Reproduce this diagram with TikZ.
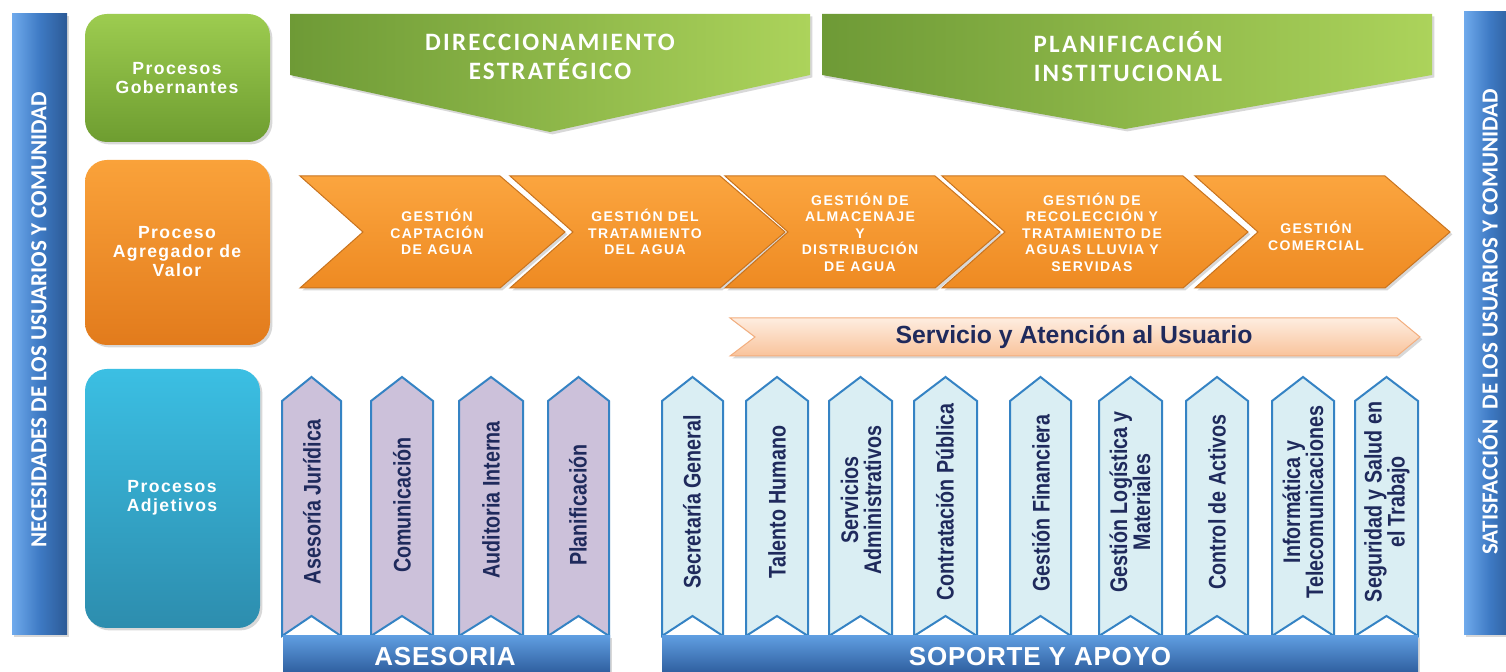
\documentclass[tikz,border=0pt]{standalone}
\usepackage{fontspec}
\setmainfont{Liberation Sans}
\newfontfamily\calib{Carlito}
\newfontfamily\bancalib[LetterSpace=9]{Carlito}
\newfontfamily\boxfont[LetterSpace=8]{Liberation Sans}
\newfontfamily\chevfont[LetterSpace=10]{Liberation Sans}
\newfontfamily\barfont[LetterSpace=3]{Liberation Sans}
\newfontfamily\narrowf[FakeStretch=0.82]{Liberation Sans}
\usetikzlibrary{shadows}
\definecolor{sbL}{HTML}{6FAAEC}
\definecolor{sbM}{HTML}{3E7AC4}
\definecolor{sbR}{HTML}{2C5A96}
\definecolor{gbT}{HTML}{9DCC50}
\definecolor{gbB}{HTML}{6E9D30}
\definecolor{obT}{HTML}{FAA23A}
\definecolor{obB}{HTML}{E27B1C}
\definecolor{tbT}{HTML}{3BBFE3}
\definecolor{tbB}{HTML}{2D8DAE}
\definecolor{gL}{HTML}{6E9A36}
\definecolor{gR}{HTML}{ACD35B}
\definecolor{oT}{HTML}{FBA53F}
\definecolor{oB}{HTML}{EE8A22}
\definecolor{oD}{HTML}{C9741F}
\definecolor{svT}{HTML}{FEEDE0}
\definecolor{svB}{HTML}{F9C39B}
\definecolor{svD}{HTML}{F3AE7E}
\definecolor{lav}{HTML}{CCC1DA}
\definecolor{lblue}{HTML}{DAEEF3}
\definecolor{arrblue}{HTML}{3583C4}
\definecolor{navy}{HTML}{1F2A5C}
\definecolor{bbT}{HTML}{5F9DE0}
\definecolor{bbB}{HTML}{2C5B9B}
\tikzset{
  myshadow/.style={drop shadow={opacity=0.3,shadow xshift=1.2pt,shadow yshift=-1.2pt}},
  sidebar/.style={left color=sbL, right color=sbR, middle color=sbM, myshadow},
  sidetxt/.style={rotate=90, text=white, inner sep=0, font=\calib\bfseries\fontsize{11.5}{12}\selectfont},
  boxtxt/.style={text=white, align=center, inner sep=0, font=\boxfont\bfseries\fontsize{8.8}{9.5}\selectfont},
  banner/.style={left color=gL, right color=gR, myshadow},
  bantxt/.style={text=white, align=center, inner sep=0, font=\bancalib\bfseries\fontsize{12.5}{14.5}\selectfont},
  chev/.style={top color=oT, bottom color=oB, draw=oD, line width=0.5pt, myshadow},
  chevtxt/.style={text=white, align=center, inner sep=0, font=\chevfont\bfseries\fontsize{7}{8.25}\selectfont},
  serv/.style={top color=svT, bottom color=svB, draw=svD, line width=0.5pt, myshadow},
  asarr/.style={fill=lav, draw=arrblue, line width=1pt},
  soarr/.style={fill=lblue, draw=arrblue, line width=1pt},
  vtxt/.style={rotate=90, text=navy, align=center, inner sep=0, font=\narrowf\bfseries\fontsize{12}{11.5}\selectfont},
  botbar/.style={top color=bbT, bottom color=bbB, myshadow},
  bartxt/.style={text=white, inner sep=0, font=\barfont\bfseries\fontsize{13}{14}\selectfont}
}
\newcommand\chevron[2]{\path[chev] (#1,176) -- (#2,176) -- ({#2+65},232) -- (#2,288) -- (#1,288) -- ({#1+63},232) -- cycle;}
\newcommand\varr[3]{\path[#3] (#1,401) -- ({(#1+#2)/2},377) -- (#2,401) -- (#2,636) -- ({(#1+#2)/2},616) -- (#1,636) -- cycle;}
\begin{document}
\begin{tikzpicture}[x=0.5pt,y=-0.5pt]
\useasboundingbox (0,0) rectangle (1506,672);
\fill[white] (0,0) rectangle (1506,672);
% side bars
\path[sidebar] (12,14) rectangle (67,635);
\node[sidetxt] (needs) at (39,320) {NECESIDADES DE LOS USUARIOS Y COMUNIDAD};
\path[sidebar] (1464,12) rectangle (1515,635);
\node[sidetxt] (satis) at (1488,322) {SATISFACCIÓN~ DE LOS USUARIOS Y COMUNIDAD};
% category boxes
\path[rounded corners=11pt, top color=gbT, bottom color=gbB, myshadow] (85,14) rectangle (270,142);
\node[boxtxt] (gob) at (177,78) {Procesos\\Gobernantes};
\path[rounded corners=11pt, top color=obT, bottom color=obB, myshadow] (85,160) rectangle (270,345);
\node[boxtxt] (agr) at (177,252) {Proceso\\Agregador de\\Valor};
\path[rounded corners=11pt, top color=tbT, bottom color=tbB, myshadow] (85,369) rectangle (260,628);
\node[boxtxt] (adj) at (172,498) {Procesos\\Adjetivos};
% green banners
\path[banner] (290,14) -- (810,14) -- (810,75) -- (550,132) -- (290,75) -- cycle;
\node[bantxt] (dir) at (550,57) {DIRECCIONAMIENTO\\ESTRATÉGICO};
\path[banner] (822,14) -- (1432,14) -- (1432,75) -- (1125,129) -- (822,75) -- cycle;
\node[bantxt] (plan) at (1128,57) {PLANIFICACIÓN\\INSTITUCIONAL};
% orange chevrons
\chevron{300}{500}
\chevron{510}{720}
\chevron{725}{935}
\chevron{942}{1183}
\chevron{1195}{1385}
\node[chevtxt] (c1) at (437,232) {GESTIÓN\\CAPTACIÓN\\DE AGUA};
\node[chevtxt] (c2) at (645,232) {GESTIÓN DEL\\TRATAMIENTO\\DEL AGUA};
\node[chevtxt] (c3) at (860,232) {GESTIÓN DE\\ALMACENAJE\\Y\\DISTRIBUCIÓN\\DE AGUA};
\node[chevtxt] (c4) at (1092,232) {GESTIÓN DE\\RECOLECCIÓN Y\\TRATAMIENTO DE\\AGUAS LLUVIA Y\\SERVIDAS};
\node[chevtxt] (c5) at (1316,236) {GESTIÓN\\COMERCIAL};
% service arrow
\path[serv] (730,318) -- (1397,318) -- (1420,337) -- (1397,356) -- (730,356) -- (755,337) -- cycle;
\node[text=navy, inner sep=0, font=\bfseries\fontsize{12.4}{13}\selectfont] (sv) at (1074,337) {Servicio y Atención al Usuario};
% asesoria arrows
\varr{282}{341}{asarr}
\varr{371}{433}{asarr}
\varr{459}{523}{asarr}
\varr{548}{609}{asarr}
\node[vtxt] (a1) at (312,502) {Asesoría Jurídica};
\node[vtxt] (a2) at (402,505) {Comunicación};
\node[vtxt] (a3) at (491,500) {Auditoria Interna};
\node[vtxt] (a4) at (578,505) {Planificación};
% soporte arrows
\varr{662}{723}{soarr}
\varr{746}{808}{soarr}
\varr{829}{892}{soarr}
\varr{914}{977}{soarr}
\varr{1010}{1071}{soarr}
\varr{1099}{1162}{soarr}
\varr{1186}{1248}{soarr}
\varr{1272}{1334}{soarr}
\varr{1355}{1418}{soarr}
\node[vtxt] (s1) at (692,502) {Secretaría General};
\node[vtxt] (s2) at (777,502) {Talento Humano};
\node[vtxt] (s3) at (861,500) {Servicios\\Administrativos};
\node[vtxt] (s4) at (945,502) {Contratación Pública};
\node[vtxt] (s5) at (1041,503) {Gestión Financiera};
\node[vtxt] (s6) at (1130,502) {Gestión Logística y\\Materiales};
\node[vtxt] (s7) at (1217,502) {Control de Activos};
\node[vtxt] (s8) at (1303,502) {Informática y\\Telecomunicaciones};
\node[vtxt] (s9) at (1387,502) {Seguridad y Salud en\\el Trabajo};
% bottom bars
\path[botbar] (283,636) rectangle (610,675);
\node[bartxt] (ase) at (445,657) {ASESORIA};
\path[botbar] (662,636) rectangle (1418,675);
\node[bartxt] (sop) at (1040,657) {SOPORTE Y APOYO};
\end{tikzpicture}
\end{document}
